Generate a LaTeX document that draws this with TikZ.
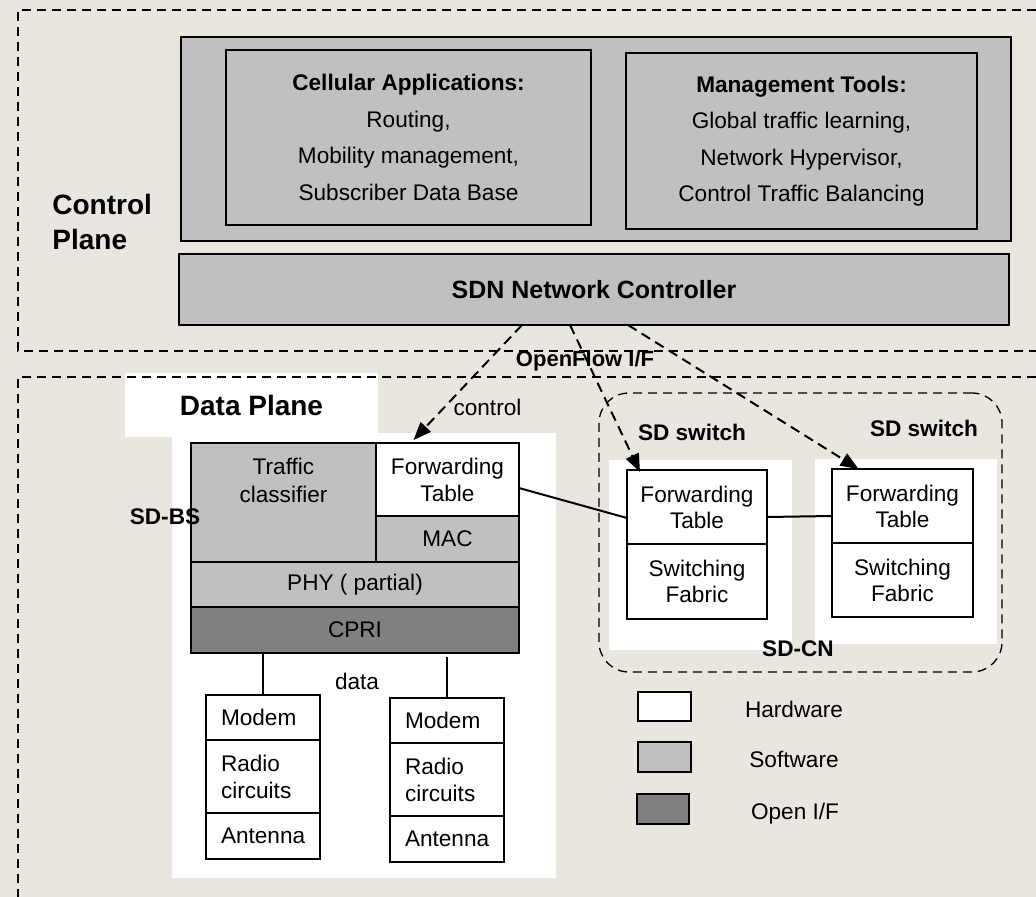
\documentclass[tikz,border=0pt]{standalone}
\usepackage{fontspec}
\setmainfont{Liberation Sans}
\usetikzlibrary{positioning}
\usetikzlibrary{arrows.meta}
\definecolor{bgpaper}{RGB}{233,229,223}
\definecolor{swgray}{RGB}{192,192,192}
\definecolor{ifgray}{RGB}{128,128,128}
\def\lbl#1{\textbf{#1}}

\tikzset{
  blk/.style={draw=black,line width=0.9pt,outer sep=0pt,inner sep=0pt,align=center},
  hw/.style={blk,fill=white},
  sw/.style={blk,fill=swgray},
  oif/.style={blk,fill=ifgray},
  rbox/.style={hw,line width=1.2pt,minimum width=57pt,text width=42pt,inner xsep=7.5pt,align=left,font=\fontsize{11.3}{13.5}\selectfont},
  plane/.style={dash pattern=on 4.5pt off 3pt,line width=0.65pt},
  ofarrow/.style={->,dash pattern=on 5pt off 3pt,line width=1pt},
  boldlbl/.style={font=\fontsize{11.3}{13}\selectfont\bfseries},
}

\begin{document}
\begin{tikzpicture}[x=0.5pt,y=-0.5pt,>={Triangle[length=9pt,width=7pt]},font=\fontsize{11.3}{13}\selectfont]
	\fill[bgpaper] (0,0) rectangle (1036,897);
	\useasboundingbox (0,0) rectangle (1036,897);

	% white backgrounds
	\node [fill=white,minimum width=126.5pt,minimum height=32pt,font=\fontsize{14}{17}\selectfont\bfseries] at (251.5,405) (dplane) {Data Plane};
	\node [fill=white,minimum width=192pt,minimum height=222.5pt,anchor=north west,outer sep=0pt] at (172,433) (bsarea) {};
	\node [fill=white,minimum width=91.5pt,minimum height=95pt,anchor=north west,outer sep=0pt] at (609,460) (swAarea) {};
	\node [fill=white,minimum width=91pt,minimum height=92.5pt,anchor=north west,outer sep=0pt] at (815,459) (swBarea) {};

	% planes
	\draw[plane] (1036,10) -| (18,351) -- (1036,351);
	\draw[plane] (1036,377) -- (18,377) -- (18,897);
	\node [anchor=west,align=left,inner sep=0pt,font=\fontsize{14}{17.5}\selectfont\bfseries] at (52,222) (cplane) {Control\\Plane};

	% control plane
	\node [sw,minimum width=415pt,minimum height=102pt,anchor=north west] at (181,37) (apps) {};
	\node [sw,minimum width=182.5pt,minimum height=87.5pt,anchor=north west,font=\fontsize{11.3}{18.2}\selectfont] at (226,50) (cellapp) {\lbl{Cellular Applications:}\\Routing,\\Mobility management,\\Subscriber Data Base};
	\node [sw,minimum width=175.5pt,minimum height=88pt,anchor=north west,font=\fontsize{11.3}{18.2}\selectfont] at (626,53) (mgmt) {\lbl{Management Tools:}\\Global traffic learning,\\Network Hypervisor,\\Control Traffic Balancing};
	\node [sw,minimum width=415pt,minimum height=35.5pt,anchor=north west,font=\fontsize{12.5}{15}\selectfont\bfseries] at (179,254) (sdn) {SDN Network Controller};
	\node [font=\fontsize{11}{13}\selectfont\bfseries] at (585,361) (ofif) {OpenFlow I/F};

	% SD-BS
	\node [sw,minimum width=92.5pt,minimum height=59.5pt,anchor=north west] at (191,443) (tclass) {};
	\node [below=4pt of tclass.north,align=center,font=\fontsize{11.3}{14}\selectfont] (tclass_txt) {Traffic\\classifier};
	\node [hw,minimum width=71.5pt,minimum height=36.5pt,anchor=north west,font=\fontsize{11.3}{13.5}\selectfont] at (tclass.north east) (fwd) {Forwarding\\Table};
	\node [sw,minimum width=71.5pt,minimum height=23pt,below=0pt of fwd] (mac) {MAC};
	\node [sw,minimum width=164pt,minimum height=22.5pt,anchor=north west] at (tclass.south west) (phy) {PHY ( partial)};
	\node [oif,minimum width=164pt,minimum height=23pt,below=0pt of phy] (cpri) {CPRI};
	\node [boldlbl] at (165,517) (sdbs) {SD-BS};

	% radio units
	\node [rbox,minimum height=22.5pt,anchor=north west] at (206,695) (modemA) {Modem};
	\node [rbox,minimum height=36.5pt,below=0pt of modemA] (radioA) {Radio\\circuits};
	\node [rbox,minimum height=23pt,below=0pt of radioA] (antA) {Antenna};
	\node [rbox,minimum height=22.5pt,anchor=north west] at (390,698) (modemB) {Modem};
	\node [rbox,minimum height=36.5pt,below=0pt of modemB] (radioB) {Radio\\circuits};
	\node [rbox,minimum height=23pt,below=0pt of radioB] (antB) {Antenna};
	\draw[line width=1pt] (modemA.north |- cpri.south) -- (modemA.north);
	\draw[line width=1pt] ([yshift=-2pt]modemB.north |- cpri.south) -- (modemB.north);
	\node at (357,681) (datalbl) {data};

	% SD-CN
	\node [draw,plane,rounded corners=15pt,minimum width=201.5pt,minimum height=139.5pt,anchor=north west,outer sep=0pt] at (599,393) (sdcn) {};
	\node [hw,minimum width=70pt,minimum height=37pt,anchor=north west,font=\fontsize{11.3}{13}\selectfont] at (627,470) (swAfwd) {Forwarding\\Table};
	\node [hw,minimum width=70pt,minimum height=37.5pt,below=0pt of swAfwd,font=\fontsize{11.3}{13}\selectfont] (swAfab) {Switching\\Fabric};
	\node [hw,minimum width=70.5pt,minimum height=37pt,anchor=north west,font=\fontsize{11.3}{13}\selectfont] at (832,469) (swBfwd) {Forwarding\\Table};
	\node [hw,minimum width=70.5pt,minimum height=37pt,below=0pt of swBfwd,font=\fontsize{11.3}{13}\selectfont] (swBfab) {Switching\\Fabric};
	\node [boldlbl] at (692,432) (swAlbl) {SD switch};
	\node [boldlbl] at (924,428) (swBlbl) {SD switch};
	\node [boldlbl] at (798,649) (sdcnlbl) {SD-CN};

	% legend
	\node [hw,line width=1pt,minimum width=26.5pt,minimum height=14.5pt,anchor=north west] at (638,692) (keyhw) {};
	\node [sw,line width=1pt,minimum width=26.5pt,minimum height=15pt,anchor=north west] at (638,742) (keysw) {};
	\node [oif,line width=1pt,minimum width=26pt,minimum height=15pt,anchor=north west] at (637,794) (keyif) {};
	\node at (794,709) (keyhwlbl) {Hardware};
	\node at (794,759) (keyswlbl) {Software};
	\node at (795,814) (keyiflbl) {Open I/F};

	% links
	\draw[line width=1pt] ([yshift=-4.25pt]fwd.east) -- ([yshift=-5.5pt]swAfwd.west);
	\draw[line width=1pt] ([yshift=-5pt]swAfwd.east) -- ([yshift=-5pt]swBfwd.west);
	\draw[ofarrow] ([xshift=-36pt]sdn.south) -- node[pos=0.72,right=1pt] (ctrllbl) {control} ([xshift=-17pt,yshift=1.5pt]fwd.north);
	\draw[ofarrow] ([xshift=-12pt]sdn.south) -- ([xshift=-28.5pt,yshift=-1pt]swAfwd.north);
	\draw[ofarrow] ([xshift=17pt]sdn.south) -- ([xshift=-22pt]swBfwd.north);
\end{tikzpicture}
\end{document}
